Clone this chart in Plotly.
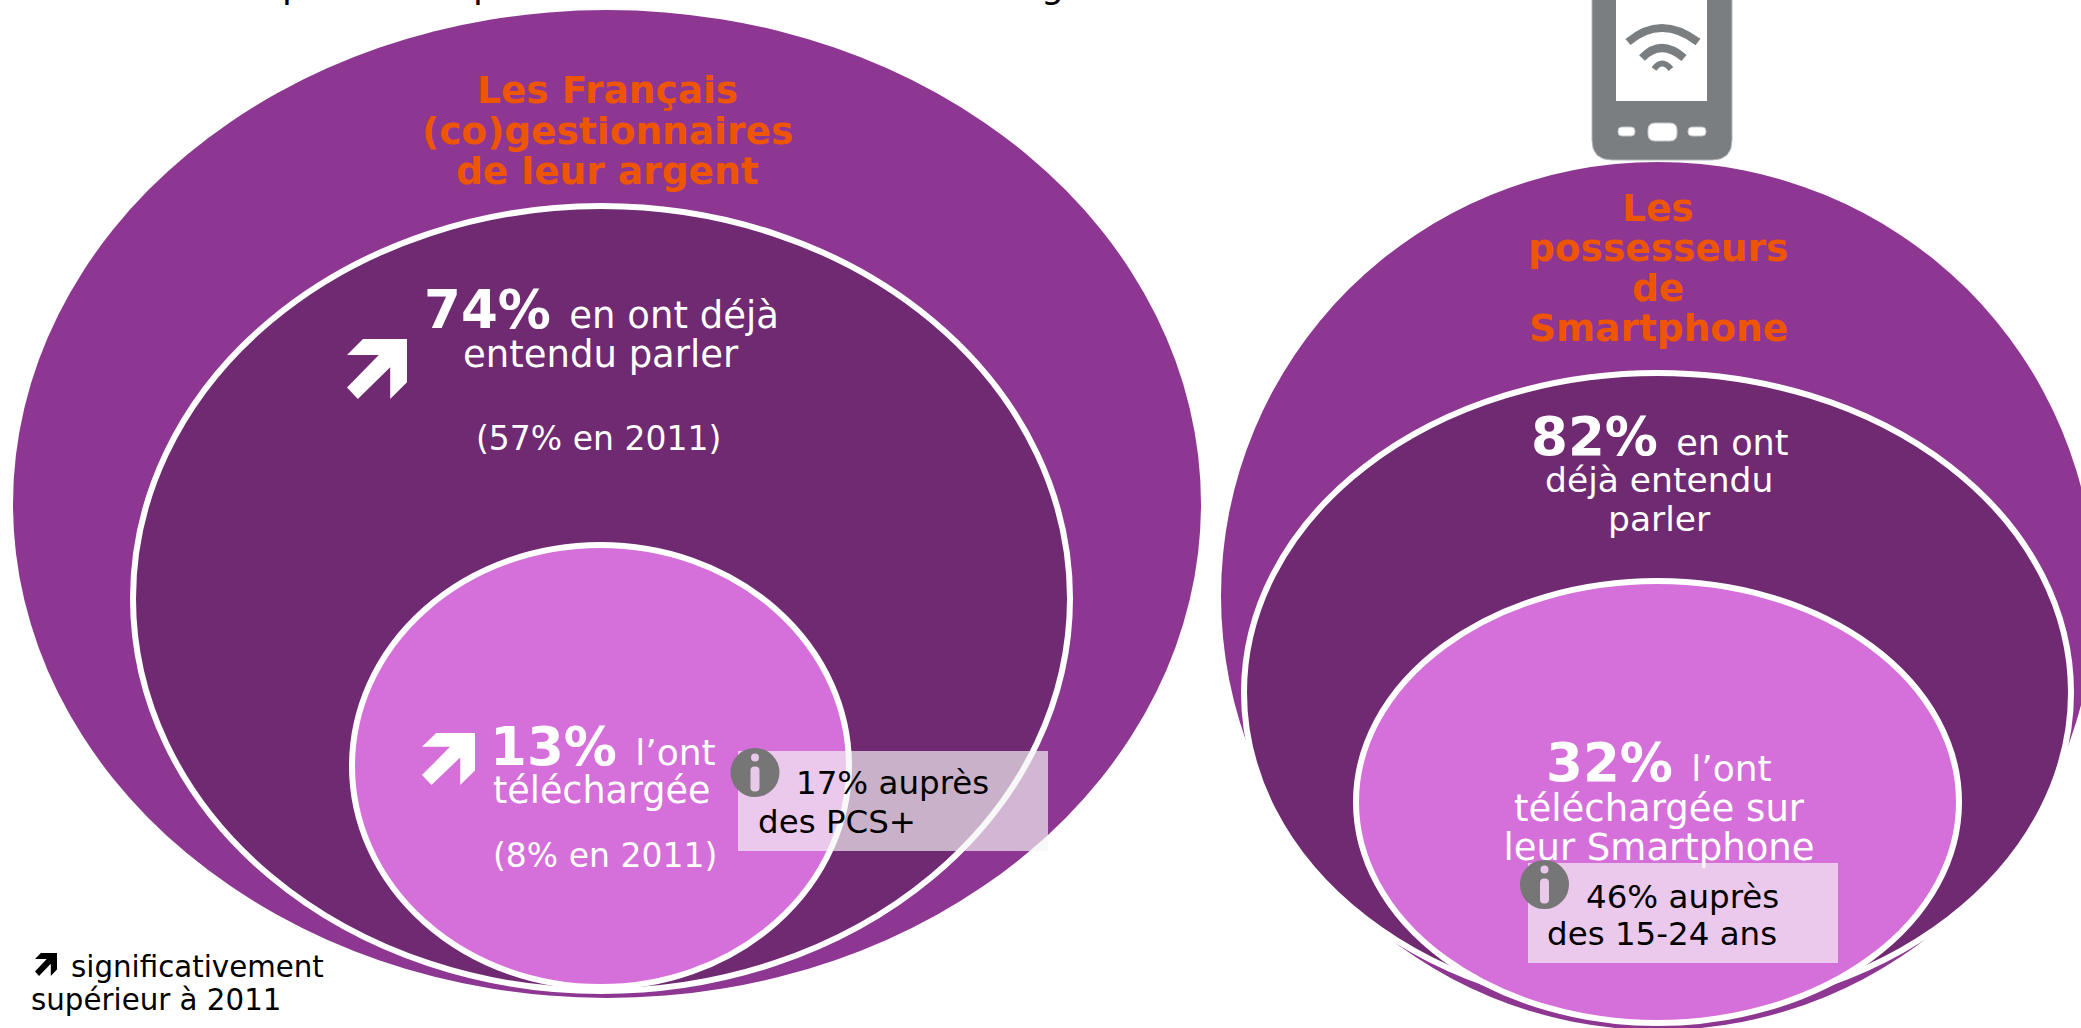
import plotly.graph_objects as go

W, H = 2081, 1028
OUTER, MID, INNER = "#8D3792", "#6F2A72", "#D570DA"
ORANGE, WHITE, BLACK, GREY = "#EE5500", "#FFFFFF", "#000000", "#767676"
PHONE = "#7B7E81"

# ---- text content ----
group_left = ["Les Français", "(co)gestionnaires", "de leur argent"]
group_right = ["Les", "possesseurs", "de", "Smartphone"]
pct_heard = ["74%", "82%"]
pct_downloaded = ["13%", "32%"]
prev_2011 = ["(57% en 2011)", "(8% en 2011)"]
callouts = [["17% auprès", "des PCS+"], ["46% auprès", "des 15-24 ans"]]
legend_lines = ["significativement", "supérieur à 2011"]
clipped_title_glyphs = ["p", "p", "g"]


def big(p):
    return f'<span style="font-size:53px;font-weight:bold">{p}&nbsp;</span>'


ann = []


def T(x, y, text, size, color=WHITE, anchor="center", bold=False):
    ann.append(dict(x=x, y=y, xref="x", yref="y", text=f"<b>{text}</b>" if bold else text,
                    showarrow=False, xanchor=anchor, yanchor="middle",
                    font=dict(family="DejaVu Sans", size=size, color=color)))


for y, s in zip([90, 131, 171], group_left):
    T(607, y, s, 37.5, ORANGE, bold=True)
for y, s in zip([208, 248, 288, 328], group_right):
    T(1658, y, s, 37.5, ORANGE, bold=True)

T(601, 309, f"{big(pct_heard[0])}en ont déjà", 37)
T(601, 354, "entendu parler", 37)
T(598, 438, prev_2011[0], 33)

T(488, 746, f"{big(pct_downloaded[0])}l’ont", 36, anchor="left")
T(491, 790, "téléchargée", 36.5, anchor="left")
T(491, 855, prev_2011[1], 33, anchor="left")

T(794, 783, callouts[0][0], 32.5, BLACK, anchor="left")
T(756, 822, callouts[0][1], 32.5, BLACK, anchor="left")

T(1659, 436, f"{big(pct_heard[1])}en ont", 35)
T(1659, 480, "déjà entendu", 34.5)
T(1659, 519, "parler", 34.5)

T(1659, 762, f"{big(pct_downloaded[1])}l’ont", 36)
T(1659, 808, "téléchargée sur", 37)

T(1584, 897, callouts[1][0], 32.5, BLACK, anchor="left")
T(1545, 934, callouts[1][1], 32.5, BLACK, anchor="left")

T(69, 967, legend_lines[0], 29.3, BLACK, anchor="left")
T(29, 1000, legend_lines[1], 29.3, BLACK, anchor="left")

for x, g in zip([293, 484, 1052], clipped_title_glyphs):
    ann.append(dict(x=x, y=1 + 15 / H, xref="x", yref="paper", text=g, showarrow=False,
                    xanchor="center", yanchor="middle",
                    font=dict(family="DejaVu Sans", size=36, color=BLACK)))


# ---- shapes ----
def ellipse(x0, y0, x1, y1, fill, line=None, layer="below", lw=6):
    return dict(type="circle", xref="x", yref="y", x0=x0, y0=y0, x1=x1, y1=y1, fillcolor=fill,
                line=dict(color=line or fill, width=lw if line else 0), layer=layer)


def rect(x0, y0, x1, y1, fill, opacity=1, layer="above"):
    return dict(type="rect", xref="x", yref="y", x0=x0, y0=y0, x1=x1, y1=y1, fillcolor=fill,
                opacity=opacity, line=dict(width=0), layer=layer)


def path(d, fill=None, line=None, lw=0, layer="below"):
    s = dict(type="path", xref="x", yref="y", path=d, layer=layer, line=dict(width=lw, color=line or "rgba(0,0,0,0)"))
    if fill:
        s["fillcolor"] = fill
    return s


ARROW = [(0, .265), (.267, 0), (1, 0), (1, .72), (.72, 1), (.72, .47), (.18, 1), (0, .81), (.53, .265)]


def arrow(x0, y0, x1, y1, fill, layer="above"):
    pts = [(x0 + (x1 - x0) * a, y0 + (y1 - y0) * b) for a, b in ARROW]
    return path("M" + " L".join(f"{a:.1f},{b:.1f}" for a, b in pts) + " Z", fill=fill, layer=layer)


def rr(x0, y0, x1, y1, r):
    return (f"M{x0+r},{y0} L{x1-r},{y0} Q{x1},{y0} {x1},{y0+r} L{x1},{y1-r} Q{x1},{y1} {x1-r},{y1} "
            f"L{x0+r},{y1} Q{x0},{y1} {x0},{y1-r} L{x0},{y0+r} Q{x0},{y0} {x0+r},{y0} Z")


def info(cx, cy, rx=24.5, ry=24.5):
    c = "#E8C9EA"
    return [
        ellipse(cx - rx, cy - ry, cx + rx, cy + ry, GREY, layer="above"),
        ellipse(cx - 4, cy - 19, cx + 4, cy - 11, c, layer="above"),
        path(rr(cx - 4.5, cy - 6, cx + 4.5, cy + 19, 4), fill=c, layer="above"),
    ]


shapes = [
    # left group
    ellipse(13, 10, 1201, 998, OUTER),
    ellipse(133, 206, 1070, 991, MID, WHITE),
    ellipse(352, 545, 849, 987, INNER, WHITE),
    # right group
    ellipse(1221, 162, 2095, 1030, OUTER),
    ellipse(1244, 373, 2071, 1012, MID, WHITE),
    ellipse(1356, 581, 1959, 1023, INNER, WHITE),
    # phone
    path(rr(1592, -40, 1732, 160, 20), fill=PHONE, line="#B4B6B8", lw=1),
    rect(1616, -10, 1707, 101, WHITE, layer="below"),
    path(rr(1618, 127, 1635, 136, 4), fill=WHITE, line="#C4C6C8", lw=1),
    path(rr(1648, 123, 1677, 141, 7), fill=WHITE, line="#C4C6C8", lw=1),
    path(rr(1688, 127, 1706, 136, 4), fill=WHITE, line="#C4C6C8", lw=1),
    path("M1628,42 Q1661,14 1698,42", line=PHONE, lw=8),
    path("M1642,58 Q1661,38 1684,58", line=PHONE, lw=8),
    path("M1654,69 Q1662,58 1671,69", line=PHONE, lw=6),
    # call-out boxes
    rect(738, 751, 1048, 851, "#F5F5F5", .67),
    rect(1528, 863, 1838, 963, "#F5F5F5", .67),
    # arrows
    arrow(347, 339, 407, 399, WHITE),
    arrow(422, 733, 475, 785, WHITE),
    arrow(35, 953, 57, 976, BLACK),
]
shapes += info(755, 772.5, 24.5, 24.5)
shapes += info(1544.5, 884.5)

# "leur Smartphone" runs beneath the call-out box, so it is a trace (between shape layers)
trace = go.Scatter(x=[1659], y=[851], mode="text", text=["leur Smartphone"], textposition="middle center",
                   textfont=dict(family="DejaVu Sans", size=37, color=WHITE), hoverinfo="skip", showlegend=False)

fig = go.Figure(trace)
fig.update_layout(
    width=W, height=H, margin=dict(l=0, r=0, t=0, b=0), paper_bgcolor=WHITE, plot_bgcolor=WHITE,
    xaxis=dict(range=[0, W], visible=False, fixedrange=True),
    yaxis=dict(range=[H, 0], visible=False, fixedrange=True),
    shapes=shapes, annotations=ann, showlegend=False,
)
fig.write_html("out.html", config={"displayModeBar": False},
               post_script="document.body.style.margin='0';document.body.style.overflow='hidden';")
